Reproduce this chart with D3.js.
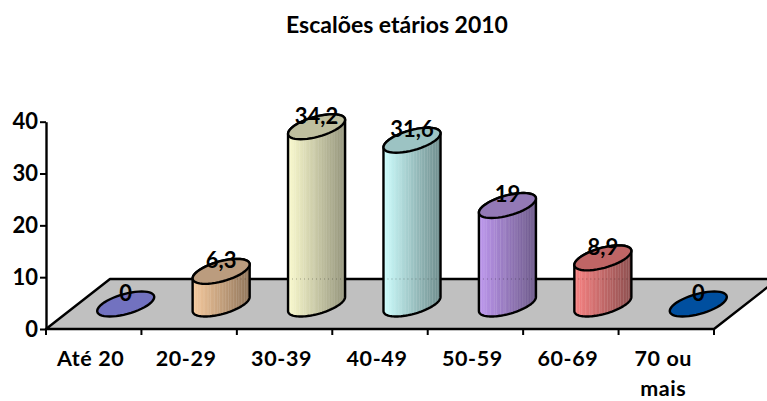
<!DOCTYPE html>
<html>
<head>
<meta charset="utf-8">
<script src="https://cdn.jsdelivr.net/npm/d3@7"></script>
<style>
  html, body { margin: 0; padding: 0; background: #fff; }
  text { font-family: Lato, "Open Sans", sans-serif; font-weight: 700; fill: #000; }
</style>
</head>
<body>
<div id="chart"></div>
<script>
const categories = ["Até 20", "20-29", "30-39", "40-49", "50-59", "60-69", "70 ou mais"];
const values = [0, 6.3, 34.2, 31.6, 19, 8.9, 0];
const labels = ["0", "6,3", "34,2", "31,6", "19", "8,9", "0"];
const yTicks = [0, 10, 20, 30, 40];
const bodyLight = ["#7b7bc8", "#f6ca9e", "#fbfbcf", "#ceffff", "#bd97ee", "#f88282", "#004f9f"];
const bodyDark = ["#7b7bc8", "#8f7459", "#93937a", "#6d8b8b", "#6b5888", "#8c4e4e", "#004f9f"];
const topFill = ["#7272c0", "#bb9c7e", "#bfbf9f", "#9cc3c3", "#9379b6", "#bf6565", "#004f9f"];

const width = 767, height = 401;
const svg = d3.select("#chart").append("svg")
    .attr("width", width).attr("height", height)
    .style("display", "block");

// front plane of the 3d box, floor goes back by depth
const depth = { x: 64, y: -50 };
const x = d3.scaleBand().domain(categories).range([46, 714]);
const y = d3.scaleLinear().domain([0, 40]).range([329, 121.7]);

// floor
const y0 = y(0);
svg.append("path")
    .attr("d", `M${x.range()[0]},${y0}L${x.range()[0] + depth.x},${y0 + depth.y}L${x.range()[1] + depth.x},${y0 + depth.y}L${x.range()[1]},${y0}Z`)
    .attr("fill", "#c0c0c0")
    .attr("stroke", "#000")
    .attr("stroke-width", 2.4)
    .attr("stroke-linejoin", "round");

// gradients for the cylinder sides
const defs = svg.append("defs");
categories.forEach((c, i) => {
    const g = defs.append("linearGradient").attr("id", "side" + i);
    g.append("stop").attr("offset", "0%").attr("stop-color", bodyLight[i]);
    g.append("stop").attr("offset", "100%").attr("stop-color", bodyDark[i]);
});

// ellipse is a circle laid on the floor, so it is skewed along the depth direction
const a = x.bandwidth() * 0.2475;
const b = { x: depth.x / 4, y: depth.y / 4 };
const t0 = Math.atan2(b.x, a);
function point(cx, cy, t) {
    return [cx + a * Math.cos(t) + b.x * Math.sin(t), cy + b.y * Math.sin(t)];
}
function ring(cx, cy, from, to) {
    const n = 48;
    return d3.range(n + 1).map(k => point(cx, cy, from + (to - from) * k / n));
}
const line = d3.line();
// uneven highlight stripes on the side of the cylinders
const stripes = [0.04, 0.09, 0.13, 0.2, 0.27, 0.31, 0.38, 0.44, 0.47, 0.53, 0.58, 0.63, 0.67, 0.72, 0.77, 0.81, 0.86, 0.91, 0.95];

const bars = svg.append("g").selectAll("g")
    .data(categories)
    .join("g");

bars.each(function (c, i) {
    const g = d3.select(this);
    const cx = x(c) + x.bandwidth() / 2 + depth.x / 2;
    const cy = y0 + depth.y / 2;
    const h = y0 - y(values[i]);
    const topY = cy - h;
    const halfW = Math.hypot(a, b.x);

    if (h > 0) {
        // side: front half of the base ellipse, then up and across the top
        const front = ring(cx, cy, t0 - Math.PI, t0);
        const upper = ring(cx, topY, t0, t0 + Math.PI);
        const side = line(front.concat(upper)) + "Z";
        defs.append("clipPath").attr("id", "clip" + i).append("path").attr("d", side);
        g.append("path").attr("d", side).attr("fill", `url(#side${i})`);

        const clipped = g.append("g").attr("clip-path", `url(#clip${i})`);
        clipped.selectAll("line.stripe")
            .data(stripes)
            .join("line")
            .attr("class", "stripe")
            .attr("x1", d => cx - halfW + 2 * halfW * d)
            .attr("x2", d => cx - halfW + 2 * halfW * d)
            .attr("y1", topY - 20)
            .attr("y2", cy + 20)
            .attr("stroke", "#fff")
            .attr("stroke-opacity", 0.13)
            .attr("stroke-width", 1);
        // back wall line showing faintly through the bars
        clipped.append("line")
            .attr("x1", cx - halfW).attr("x2", cx + halfW)
            .attr("y1", y0 + depth.y).attr("y2", y0 + depth.y)
            .attr("stroke", "#000")
            .attr("stroke-opacity", 0.22)
            .attr("stroke-dasharray", "1 3")
            .attr("stroke-width", 1.5);

        g.append("path").attr("d", side)
            .attr("fill", "none")
            .attr("stroke", "#000")
            .attr("stroke-width", 2.4)
            .attr("stroke-linejoin", "round");
    }

    g.append("path")
        .attr("d", line(ring(cx, topY, 0, 2 * Math.PI)) + "Z")
        .attr("fill", topFill[i])
        .attr("stroke", "#000")
        .attr("stroke-width", 2.4);

    g.append("text")
        .attr("x", cx)
        .attr("y", topY - 11)
        .attr("dy", "0.36em")
        .attr("text-anchor", "middle")
        .attr("font-size", 22)
        .text(labels[i]);
});

// y axis
const yAxis = svg.append("g")
    .attr("transform", `translate(${x.range()[0]},0)`)
    .call(d3.axisLeft(y).tickValues(yTicks).tickSize(6).tickPadding(2).tickSizeOuter(0));
yAxis.attr("font-family", null);
yAxis.selectAll("text").attr("font-size", 22);
yAxis.select(".domain").attr("stroke", "#000").attr("stroke-width", 2.4);
yAxis.selectAll("line").attr("stroke", "#000").attr("stroke-width", 2);

// x axis, ticks sit on the category boundaries
const xAxis = svg.append("g")
    .attr("transform", `translate(0,${y0})`)
    .call(d3.axisBottom(x).tickSize(0).tickPadding(0));
xAxis.attr("font-family", null);
xAxis.select(".domain").remove();
xAxis.selectAll(".tick").select("line").remove();
xAxis.selectAll(".bound")
    .data(categories.map(c => x(c)).concat(x.range()[1]))
    .join("line")
    .attr("class", "bound")
    .attr("x1", d => d).attr("x2", d => d)
    .attr("y1", 0).attr("y2", 6)
    .attr("stroke", "#000")
    .attr("stroke-width", 2);
xAxis.selectAll(".tick text")
    .attr("font-size", 21.5)
    .attr("letter-spacing", 0.6)
    .attr("dy", null)
    .each(function (c) {
        const t = d3.select(this).text("");
        // long label wraps onto two widely spaced lines
        const words = c === "70 ou mais" ? ["70 ou", "mais"] : [c];
        words.forEach((w, k) => {
            t.append("tspan").attr("x", -3).attr("y", 37 + k * 30).text(w);
        });
    });

// title
svg.append("text")
    .attr("x", 397)
    .attr("y", 33)
    .attr("text-anchor", "middle")
    .attr("font-size", 23)
    .text("Escalões etários 2010");
</script>
</body>
</html>
